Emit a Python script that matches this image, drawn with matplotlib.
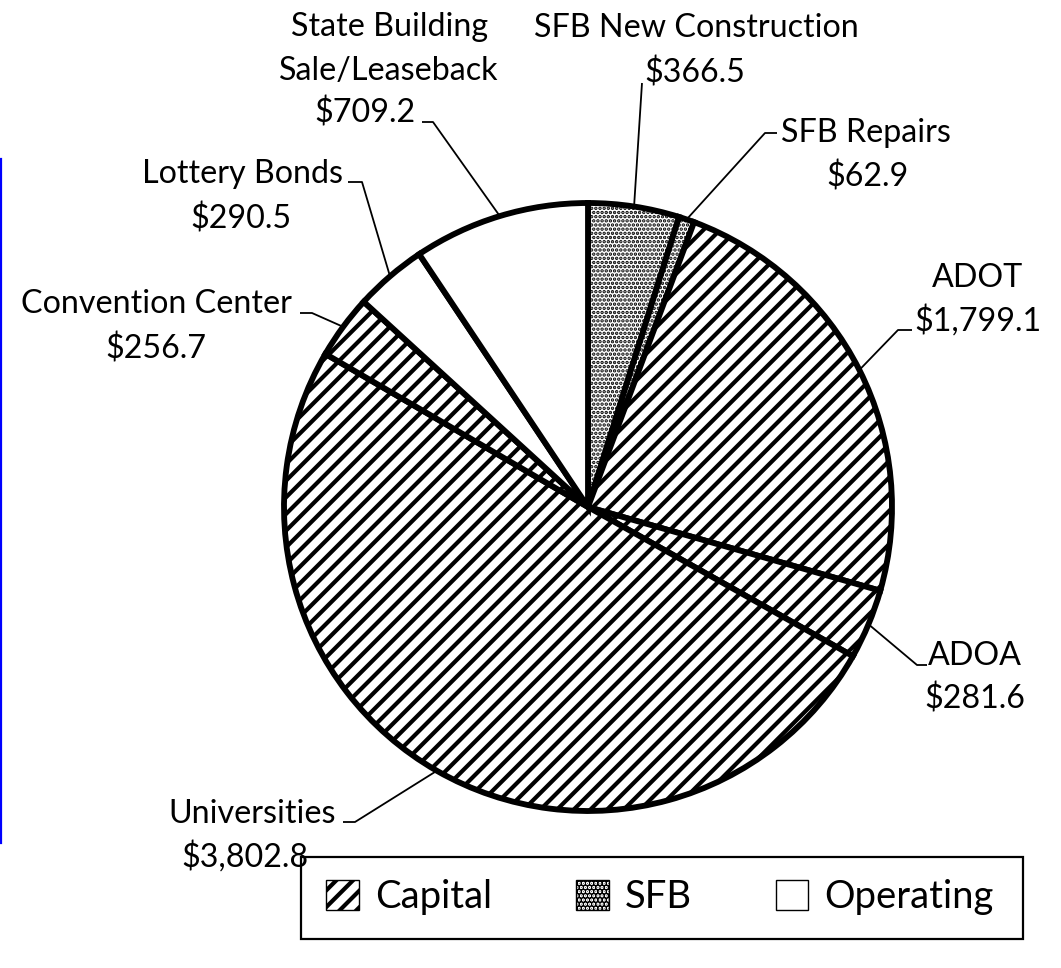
import matplotlib
matplotlib.use("Agg")
import matplotlib.pyplot as plt
from matplotlib.patches import Patch, Rectangle
import numpy as np

# ---- data ----
labels = ["SFB New Construction", "SFB Repairs", "ADOT", "ADOA", "Universities",
          "Convention Center", "Lottery Bonds", "State Building\nSale/Leaseback"]
values = [366.5, 62.9, 1799.1, 281.6, 3802.8, 256.7, 290.5, 709.2]
groups = ["SFB", "SFB", "Capital", "Capital", "Capital", "Capital", "Operating", "Operating"]
legend_labels = ["Capital", "SFB", "Operating"]

# ---- style ----
W, H = 1061, 968
plt.rcParams['font.family'] = ['Lato', 'DejaVu Sans']
FS = 23.2
FS_LEG = 27.5
hatch_of = {"Capital": "//", "SFB": "....", "Operating": ""}
hatch_lw = {"Capital": 3.0, "SFB": 1.7, "Operating": 1.0}

fig = plt.figure(figsize=(W / 100, H / 100), dpi=100)
ax = fig.add_axes([0, 0, 1, 1])

def Y(y):
    return H - y

cx, cy, R = 588, 507, 304

plt.rcParams['hatch.linewidth'] = 3.0
wedges, _ = ax.pie(values, startangle=90, counterclock=False,
                   center=(cx, Y(cy)), radius=R, colors=["white"] * len(values),
                   wedgeprops=dict(edgecolor="black", linewidth=4.2),
                   hatch=[hatch_of[g] for g in groups])
for w, g in zip(wedges, groups):
    if hasattr(w, "set_hatch_linewidth"):
        w.set_hatch_linewidth(hatch_lw[g])

ax.set_xlim(0, W)
ax.set_ylim(0, H)
ax.set_aspect("auto")
ax.axis("off")

# ---- labels (layout positions in pixels: centers / baselines) ----
label_lines = [
    [("SFB New Construction", 696, 37), ("$366.5", 695, 82)],
    [("SFB Repairs", 866, 142), ("$62.9", 867, 187)],
    [("ADOT", 978, 287), ("$1,799.1", 978, 331)],
    [("ADOA", 975, 665), ("$281.6", 975, 708)],
    [("Universities", 252, 823), ("$3,802.8", 245, 867)],
    [("Convention Center", 156, 313), ("$256.7", 156, 358)],
    [("Lottery Bonds", 242, 183), ("$290.5", 241, 228)],
    [("State Building", 390, 36), ("Sale/Leaseback", 389, 80), ("$709.2", 365, 123)],
]
# leader: (corner point, horizontal end x or None)
leaders = [
    ((642, 83), None),
    ((765, 133), 777),
    ((898, 330), 912),
    ((917, 665), 927),
    ((355, 822), 343),
    ((312, 313), 300),
    ((362, 182), 348),
    ((433, 122), 422),
]

for w, lines, (corner, hx) in zip(wedges, label_lines, leaders):
    mid = np.deg2rad((w.theta1 + w.theta2) / 2)
    ex, ey = cx + R * np.cos(mid), Y(cy) + R * np.sin(mid)
    xs = [ex, corner[0]]
    ys = [ey, Y(corner[1])]
    if hx is not None:
        xs.append(hx)
        ys.append(Y(corner[1]))
    ax.plot(xs, ys, color="black", lw=1.3, solid_capstyle="butt", zorder=1)
    for txt, x, yb in lines:
        ax.text(x, Y(yb), txt, ha="center", va="baseline", fontsize=FS, color="black")

# blue line at left edge
ax.plot([1.2, 1.2], [Y(159), Y(843)], color="#0000FF", lw=1.6)

# ---- legend ----
ax.add_patch(Rectangle((301, Y(939)), 722, 82, fill=False, edgecolor="black", lw=1.6))
handles = []
for g in legend_labels:
    p = Patch(facecolor="white", edgecolor="black", hatch=hatch_of[g], linewidth=1.0)
    if hasattr(p, "set_hatch_linewidth"):
        p.set_hatch_linewidth(hatch_lw[g] * 0.8)
    handles.append(p)
leg = fig.legend(handles, legend_labels, loc="center", ncol=3,
                 bbox_to_anchor=(660 / W, Y(897) / H),
                 fontsize=FS_LEG, frameon=False, handlelength=0.85, handleheight=0.85,
                 handletextpad=0.42, columnspacing=2.2, borderpad=0, borderaxespad=0)

fig.savefig("out.png", dpi=100)
